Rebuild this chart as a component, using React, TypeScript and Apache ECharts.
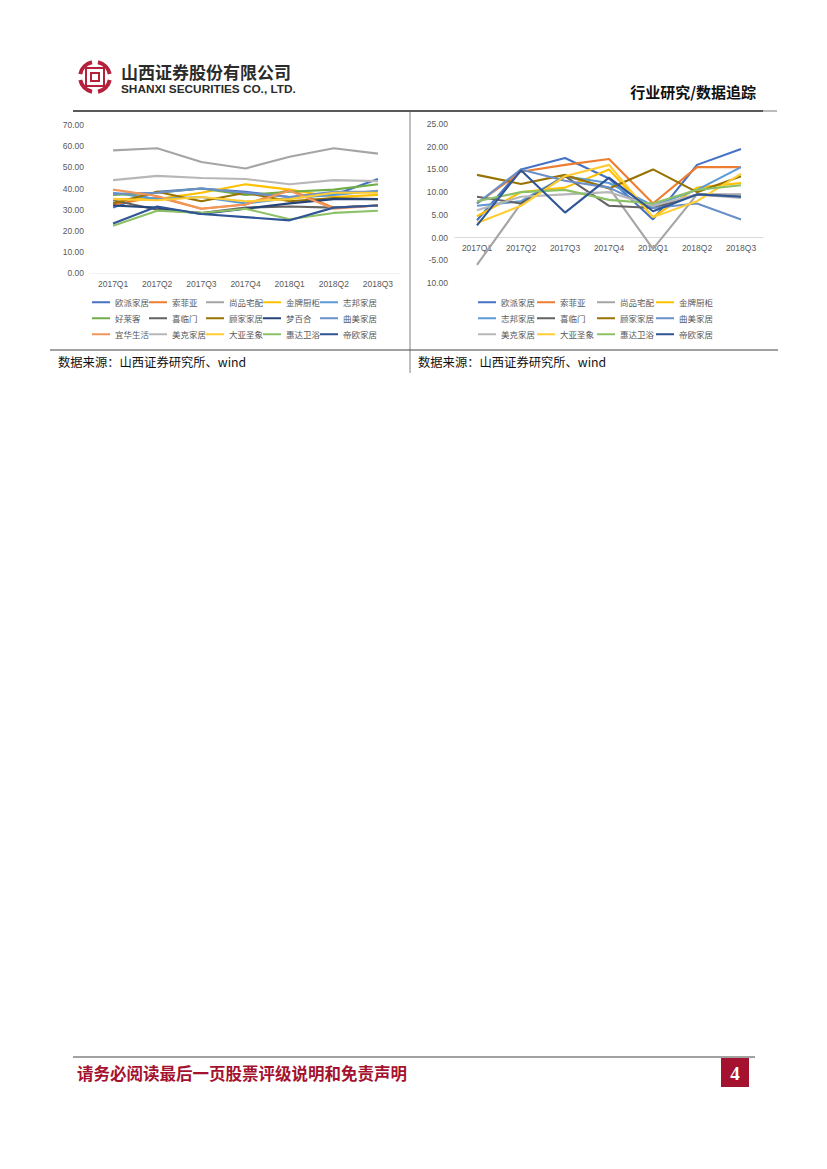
import React, { useEffect, useRef } from "react";
import * as echarts from "echarts";

const quarters = ["2017Q1", "2017Q2", "2017Q3", "2017Q4", "2018Q1", "2018Q2", "2018Q3"];

const leftNames = ["欧派家居", "索菲亚", "尚品宅配", "金牌厨柜", "志邦家居", "好莱客", "喜临门", "顾家家居", "梦百合", "曲美家居", "宜华生活", "美克家居", "大亚圣象", "惠达卫浴", "帝欧家居"];
const leftValues = [
  [31, 38.5, 40, 38.5, 36, 37, 44.5],
  [32.5, 36, 30.5, 32.5, 39.5, 31, 32],
  [58, 59, 52.5, 49.5, 55, 59, 56.5],
  [35, 35, 38, 42, 39.5, 36, 37],
  [38, 35, 36, 33, 35.5, 37, 39],
  [37, 38, 40, 37, 38.5, 39.5, 42],
  [34.5, 30, 28.5, 31, 31.5, 31, 32],
  [33, 38.5, 34, 38, 34, 35.5, 35],
  [32, 31, 28, 30.5, 33, 35, 35],
  [37.5, 38, 40, 38, 36, 38.5, 38.5],
  [39.5, 36.5, 30.5, 32.5, 39, 30.5, 32],
  [44, 46, 45, 44.5, 42, 44, 43.5],
  [35, 34.5, 36, 34, 35, 38, 38],
  [22.5, 29.5, 28.5, 30.5, 25.5, 28.5, 29.5],
  [23.5, 31.5, 28, 26.5, 25, 31, 32],
];
const leftColors = ["#4472c4", "#ed7d31", "#a5a5a5", "#ffc000", "#5b9bd5", "#70ad47", "#636363", "#997300", "#264478", "#6b8fc9", "#f1975a", "#b7b7b7", "#ffcd33", "#8cc168", "#2f5597"];

const rightNames = ["欧派家居", "索菲亚", "尚品宅配", "金牌厨柜", "志邦家居", "喜临门", "顾家家居", "曲美家居", "美克家居", "大亚圣象", "惠达卫浴", "帝欧家居"];
const rightValues = [
  [3.8, 15, 17.5, 13, 4, 16, 19.5],
  [7.5, 14.5, 16, 17.3, 7.5, 15.5, 15.5],
  [-6, 7.5, 13.5, 11, -2.5, 9.5, 9.5],
  [4.7, 10, 11, 15, 4.5, 11, 12],
  [7, 8, 13.5, 12, 7, 10.5, 15.5],
  [9, 7.5, 13.5, 7, 6.5, 9.5, 9],
  [13.8, 11.8, 13.8, 10.8, 15, 10, 13.5],
  [7.5, 15, 12.5, 11, 6.5, 7.5, 4],
  [6, 9, 9.5, 10, 7, 9.5, 8.7],
  [3.2, 7, 13.5, 16, 4.5, 8, 14],
  [8, 10, 10.5, 8.3, 7.5, 10.5, 11.5],
  [2.7, 14.8, 5.5, 13.2, 5.8, 9.5, 9],
];
const rightColors = ["#4472c4", "#ed7d31", "#a5a5a5", "#ffc000", "#5b9bd5", "#636363", "#997300", "#6b8fc9", "#b7b7b7", "#ffcd33", "#8cc168", "#2f5597"];

// The reference prints the lowest tick of the right axis without a minus sign.
const rightTickLabels = ["10.00", "-5.00", "0.00", "5.00", "10.00", "15.00", "20.00", "25.00"];

const sourceText = "数据来源：山西证券研究所、wind";

const leftLegendX = [92, 149, 206, 263, 320];
const rightLegendX = [478, 537, 597, 656];
const legendY = [303, 319, 335];

const axisText = { color: "#595959", fontSize: 8.5, fontFamily: "Liberation Sans" };

function makeLegends(names: string[], xs: number[]) {
  return names.map((name, i) => ({
    data: [name],
    left: xs[i % xs.length],
    top: legendY[Math.floor(i / xs.length)] - 5,
    padding: 0,
    icon: "rect",
    itemWidth: 18,
    itemHeight: 2,
    selectedMode: false,
    textStyle: { color: "#595959", fontSize: 8.5, fontFamily: "Noto Sans CJK SC" },
  }));
}

function makeSeries(names: string[], values: number[][], colors: string[], axis: number) {
  return names.map((name, i) => ({
    name,
    type: "line",
    xAxisIndex: axis,
    yAxisIndex: axis,
    data: values[i],
    symbol: "none",
    lineStyle: { width: 2.1, color: colors[i] },
    itemStyle: { color: colors[i] },
  }));
}

const arc = (startAngle: number, endAngle: number) => ({
  type: "arc",
  shape: { cx: 95, cy: 77, r: 15, startAngle, endAngle },
  style: { stroke: "#b5213a", lineWidth: 4, fill: "none" },
});
const hline = (x1: number, y: number, x2: number, stroke: string, lineWidth: number) => ({
  type: "line",
  shape: { x1, y1: y, x2, y2: y },
  style: { stroke, lineWidth },
});
const vline = (x: number, y1: number, y2: number, stroke: string, lineWidth: number) => ({
  type: "line",
  shape: { x1: x, y1, x2: x, y2 },
  style: { stroke, lineWidth },
});
const label = (text: string, x: number, y: number, fontSize: number, fill: string, fontFamily: string, fontWeight: string = "normal", textAlign: string = "left") => ({
  type: "text",
  x,
  y,
  style: { text, fontSize, fill, fontFamily, fontWeight, textAlign, textVerticalAlign: "middle" },
});

export default function App() {
  const ref = useRef<HTMLDivElement>(null);
  useEffect(() => {
    document.body.style.margin = "0";
    const chart = echarts.init(ref.current!, undefined, { renderer: "svg" });
    chart.setOption({
      animation: false,
      backgroundColor: "#ffffff",
      grid: [
        { left: 91, top: 125, width: 309, height: 148.3 },
        { left: 455, top: 124, width: 308, height: 159 },
      ],
      xAxis: [
        { gridIndex: 0, offset: 0, color: "#f2f2f2" },
        { gridIndex: 1, offset: -45.4, color: "#d9d9d9" },
      ].map((a) => ({
        type: "category",
        gridIndex: a.gridIndex,
        position: "bottom",
        offset: a.offset,
        data: quarters,
        axisTick: { show: false },
        axisLine: { onZero: false, lineStyle: { color: a.color, width: 1 } },
        axisLabel: { ...axisText, margin: 6, interval: 0 },
      })),
      yAxis: [
        { type: "value", gridIndex: 0, min: 0, max: 70, interval: 10, fmt: (v: number) => v.toFixed(2) },
        { type: "value", gridIndex: 1, min: -10, max: 25, interval: 5, fmt: (v: number) => rightTickLabels[(v + 10) / 5] },
      ].map(({ fmt, ...a }) => ({
        ...a,
        axisLine: { show: false },
        axisTick: { show: false },
        splitLine: { show: false },
        axisLabel: { ...axisText, margin: 7, formatter: fmt },
      })),
      legend: [...makeLegends(leftNames, leftLegendX), ...makeLegends(rightNames, rightLegendX)],
      series: [...makeSeries(leftNames, leftValues, leftColors, 0), ...makeSeries(rightNames, rightValues, rightColors, 1)],
      graphic: [
        arc(0.2, 1.37),
        arc(1.77, 2.94),
        arc(3.34, 4.51),
        arc(4.91, 6.08),
        { type: "rect", shape: { x: 86, y: 68, width: 18, height: 18 }, style: { fill: "none", stroke: "#b5213a", lineWidth: 2 } },
        { type: "rect", shape: { x: 91, y: 73, width: 8, height: 8 }, style: { fill: "none", stroke: "#b5213a", lineWidth: 2 } },
        label("山西证券股份有限公司", 121, 71, 17, "#2b2b2b", "Noto Sans CJK SC", "bold"),
        label("SHANXI SECURITIES CO., LTD.", 121, 89, 11.8, "#2b2b2b", "Liberation Sans", "bold"),
        label("行业研究/数据追踪", 756, 91, 15, "#111111", "Noto Sans CJK SC", "bold", "right"),
        hline(73, 111, 763, "#222222", 1.4),
        hline(763, 111, 777, "#555555", 0.8),
        vline(410, 112, 373, "#808080", 1),
        hline(50, 350, 778, "#444444", 1),
        label(sourceText, 58, 362, 12.3, "#111111", "Noto Sans CJK SC"),
        label(sourceText, 418, 362, 12.3, "#111111", "Noto Sans CJK SC"),
        hline(73, 1057, 755, "#444444", 1),
        { type: "rect", shape: { x: 721, y: 1058, width: 28, height: 29 }, style: { fill: "#a4122f" } },
        label("4", 735, 1073, 19, "#ffffff", "Liberation Serif", "bold", "center"),
        label("请务必阅读最后一页股票评级说明和免责声明", 77, 1073, 16.5, "#a4122f", "Noto Sans CJK SC", "bold"),
      ],
    });
    return () => chart.dispose();
  }, []);
  return <div ref={ref} style={{ width: 827, height: 1169 }} />;
}
